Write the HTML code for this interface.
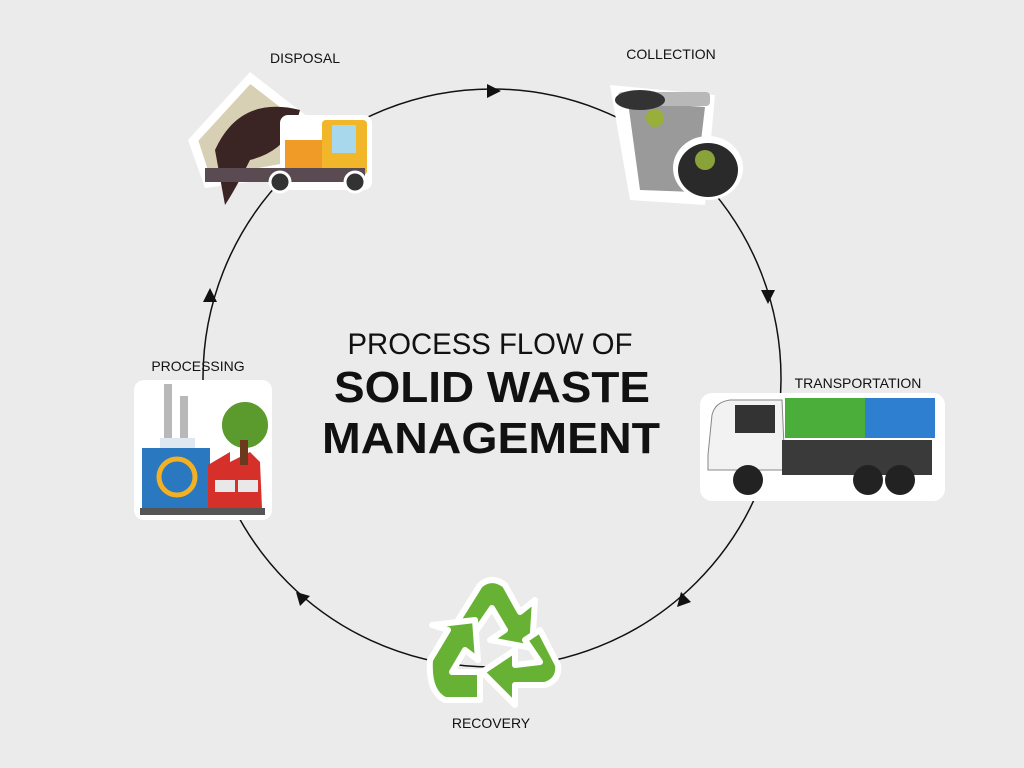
<!DOCTYPE html>
<html><head><meta charset="utf-8"><style>
html,body{margin:0;padding:0;background:#ebebeb;}
svg{display:block}
text{font-family:"Liberation Sans",sans-serif;fill:#111}
</style></head><body>
<svg width="1024" height="768" viewBox="0 0 1024 768">
<rect width="1024" height="768" fill="#ebebeb"/>
<circle cx="492" cy="378" r="289" fill="none" stroke="#111" stroke-width="1.5"/>
<!-- arrowheads -->
<polygon points="501,91 487,84 487,98" fill="#111"/>
<polygon points="768,304 761,290 775,290" fill="#111"/>
<polygon points="677,607 681,592 691,602" fill="#111"/>
<polygon points="296,592 310,596 300,606" fill="#111"/>
<polygon points="210,288 203,302 217,302" fill="#111"/>
<!-- title -->
<text x="490" y="354" font-size="30" textLength="285" lengthAdjust="spacingAndGlyphs" text-anchor="middle">PROCESS FLOW OF</text>
<text x="492" y="402" font-size="44" font-weight="bold" textLength="316" lengthAdjust="spacingAndGlyphs" text-anchor="middle">SOLID WASTE</text>
<text x="491" y="453" font-size="44" font-weight="bold" textLength="338" lengthAdjust="spacingAndGlyphs" text-anchor="middle">MANAGEMENT</text>
<!-- labels -->
<text x="305" y="63" font-size="14" text-anchor="middle">DISPOSAL</text>
<text x="671" y="59" font-size="14" text-anchor="middle">COLLECTION</text>
<text x="858" y="388" font-size="14" text-anchor="middle">TRANSPORTATION</text>
<text x="198" y="371" font-size="14" text-anchor="middle">PROCESSING</text>
<text x="491" y="728" font-size="14" text-anchor="middle">RECOVERY</text>
<!-- disposal truck -->
<g>
<polygon points="188,140 250,72 322,128 300,175 205,188" fill="#fff"/>
<polygon points="195,140 250,80 312,128 292,165 208,180" fill="#d8d0b4" stroke="#fff" stroke-width="6"/>
<path d="M215,150 Q240,95 300,110 Q290,150 250,160 Q235,190 225,205 Z" fill="#3b2424"/>
<rect x="280" y="115" width="92" height="75" rx="8" fill="#fff"/>
<rect x="285" y="140" width="40" height="35" fill="#f09a28"/>
<rect x="322" y="120" width="45" height="55" rx="4" fill="#f2b62a"/>
<rect x="332" y="125" width="24" height="28" fill="#a7d8ec"/>
<rect x="205" y="168" width="160" height="14" fill="#5a4a52"/>
<circle cx="280" cy="182" r="10" fill="#333" stroke="#fff" stroke-width="3"/>
<circle cx="355" cy="182" r="10" fill="#333" stroke="#fff" stroke-width="3"/>
</g>
<!-- collection bin -->
<g>
<path d="M610,85 L715,95 L705,205 L630,200 Z" fill="#fff"/>
<polygon points="628,102 705,107 695,192 640,190" fill="#9a9a9a"/>
<rect x="618" y="92" width="92" height="14" rx="4" fill="#b8b8b8"/>
<ellipse cx="640" cy="100" rx="25" ry="10" fill="#333"/>
<ellipse cx="708" cy="168" rx="35" ry="32" fill="#fff"/>
<ellipse cx="708" cy="170" rx="30" ry="27" fill="#2a2a2a"/>
<circle cx="705" cy="160" r="10" fill="#8aa23a"/>
<circle cx="655" cy="118" r="9" fill="#9aae3a"/>
</g>
<!-- truck -->
<g>
<rect x="700" y="393" width="245" height="108" rx="12" fill="#fff"/>
<rect x="785" y="398" width="80" height="40" fill="#4cae3a"/>
<rect x="865" y="398" width="70" height="40" fill="#2e7fd0"/>
<path d="M708,455 L712,415 Q715,402 730,400 L782,400 L785,470 L708,470 Z" fill="#f2f2f2" stroke="#888"/>
<rect x="735" y="405" width="40" height="28" fill="#333"/>
<rect x="782" y="440" width="150" height="35" fill="#3a3a3a"/>
<circle cx="748" cy="480" r="15" fill="#222"/>
<circle cx="868" cy="480" r="15" fill="#222"/>
<circle cx="900" cy="480" r="15" fill="#222"/>
</g>
<!-- processing factory -->
<g>
<rect x="134" y="380" width="138" height="140" rx="10" fill="#fff"/>
<rect x="164" y="384" width="8" height="55" fill="#b8b8b8"/>
<rect x="180" y="396" width="8" height="43" fill="#b8b8b8"/>
<rect x="160" y="438" width="35" height="10" fill="#dfe8f0"/>
<rect x="142" y="448" width="68" height="60" fill="#2a78c0"/>
<circle cx="177" cy="477" r="18" fill="none" stroke="#f3b022" stroke-width="5"/>
<polygon points="208,465 230,452 230,462 250,452 260,462 262,508 208,508" fill="#d6302a"/>
<rect x="215" y="480" width="20" height="12" fill="#e8e8e8"/>
<rect x="238" y="480" width="20" height="12" fill="#e8e8e8"/>
<rect x="140" y="508" width="125" height="7" fill="#555"/>
<circle cx="245" cy="425" r="25" fill="#5b9a2c" stroke="#fff" stroke-width="4"/>
<rect x="240" y="440" width="8" height="25" fill="#6b3a1e"/>
</g>
<!-- recovery -->
<g fill="#67b234" stroke="#fff" stroke-width="6" stroke-linejoin="round">
<path d="M455,625 L480,585 Q492,575 505,585 L520,612 L535,600 L532,648 L490,640 L505,630 L492,608 L470,640 Z"/>
<path d="M540,630 L558,665 Q560,680 545,685 L515,685 L515,705 L482,672 L515,650 L515,665 L540,662 L525,640 Z"/>
<path d="M430,660 L448,630 L432,625 L475,620 L478,660 L465,650 L452,672 L480,672 L480,700 L445,700 Q428,692 430,660 Z"/>
</g>
</svg>
</body></html>
